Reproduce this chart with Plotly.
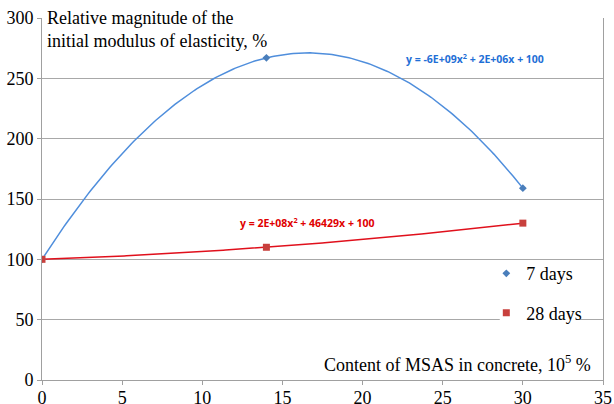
import numpy as np
import plotly.graph_objects as go

# Content of MSAS in concrete (x 10^-5 %)
content = [0, 14, 30]
# Relative initial modulus of elasticity, %
days7 = [100, 267, 159]
days28 = [100, 110, 130]

eq7 = "<b>y = -6E+09x<sup>2</sup> + 2E+06x + 100</b>"
eq28 = "<b>y = 2E+08x<sup>2</sup> + 46429x + 100</b>"

BLUE_LINE = "#4F8EDC"
BLUE_MARK = "#4A7EBB"
RED_LINE = "#E0101C"
RED_MARK = "#C8403D"
SERIF = "Liberation Serif"
FS = 18

xs = np.linspace(min(content), max(content), 200)
fit7 = np.polyval(np.polyfit(content, days7, 2), xs)
fit28 = np.polyval(np.polyfit(content, days28, 2), xs)

fig = go.Figure()
# polynomial trend lines
fig.add_trace(go.Scatter(x=xs, y=fit7, mode="lines", line=dict(color=BLUE_LINE, width=1.5),
                         showlegend=False, hoverinfo="skip"))
fig.add_trace(go.Scatter(x=xs, y=fit28, mode="lines", line=dict(color=RED_LINE, width=1.5),
                         showlegend=False, hoverinfo="skip"))
# measured points
fig.add_trace(go.Scatter(x=content, y=days7, mode="markers", name="7 days", legendgroup="a",
                         marker=dict(symbol="diamond", size=6, color=BLUE_MARK)))
fig.add_trace(go.Scatter(x=content, y=days28, mode="markers", name="28 days", legendgroup="b",
                         marker=dict(symbol="square", size=7, color=RED_MARK)))

fig.add_annotation(x=27.04, y=266.7, xref="x", yref="y", text=eq7, showarrow=False,
                   font=dict(family="Open Sans", size=10.5, color="#1F6FD6"))
fig.add_annotation(x=16.54, y=130.8, xref="x", yref="y", text=eq28, showarrow=False,
                   font=dict(family="Open Sans", size=10.5, color="#E00000"))

# axis titles placed inside the plotting area
fig.add_annotation(x=0.005, y=1.0, xref="paper", yref="paper", xanchor="left", yanchor="top",
                   yshift=12, align="left", showarrow=False, bgcolor="white",
                   text="Relative magnitude of the<br>initial modulus of elasticity, %",
                   font=dict(family=SERIF, size=FS, color="black"))
fig.add_annotation(x=0.982, y=0.0, xref="paper", yref="paper", xanchor="right", yanchor="bottom",
                   yshift=3, showarrow=False,
                   text="Content of MSAS in concrete, 10<sup>5</sup> %",
                   font=dict(family=SERIF, size=FS, color="black"))

# white patch behind the lower legend entry
fig.add_shape(type="rect", xref="paper", yref="paper", x0=0.816, x1=0.954, y0=0.15, y1=0.215,
              fillcolor="white", line=dict(width=0), layer="above")

fig.update_layout(
    width=614, height=404,
    margin=dict(l=42, r=11, t=18, b=24),
    paper_bgcolor="white", plot_bgcolor="white",
    font=dict(family=SERIF, size=FS, color="black"),
    legend=dict(x=0.792, y=0.345, xanchor="left", yanchor="top", bgcolor="rgba(0,0,0,0)",
                tracegroupgap=13, font=dict(family=SERIF, size=FS)),
    xaxis=dict(range=[0, 35], dtick=5, showgrid=False, showline=True, linecolor="#A0A0A0",
               linewidth=1, ticks="outside", ticklen=4, tickcolor="#A0A0A0", zeroline=False,
               automargin=False, ticklabelstandoff=-3, tickfont=dict(family=SERIF, size=FS)),
    yaxis=dict(range=[0, 300], dtick=50, showgrid=True, gridcolor="#A8A8A8", gridwidth=1,
               showline=True, linecolor="#A0A0A0", mirror=True, linewidth=1,
               ticks="outside", ticklen=4, tickcolor="#A0A0A0", zeroline=False,
               automargin=False, tickfont=dict(family=SERIF, size=FS)),
)

fig.write_html("out.html")
